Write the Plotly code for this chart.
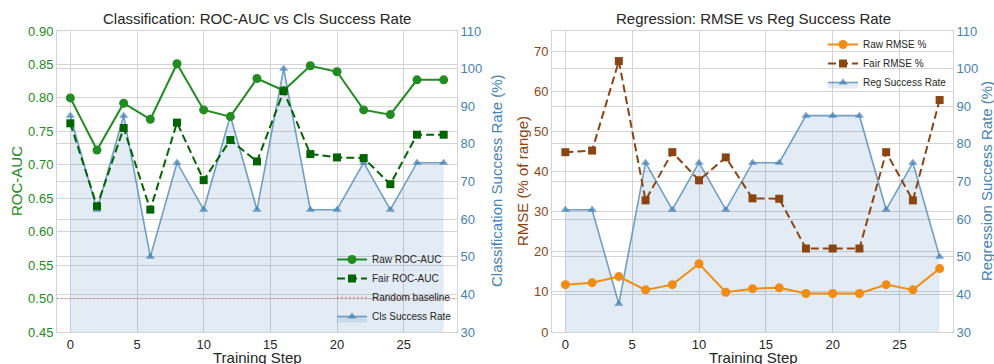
import plotly.graph_objects as go

steps = [0, 2, 4, 6, 8, 10, 12, 14, 16, 18, 20, 22, 24, 26, 28]

raw_auc = [0.800, 0.722, 0.792, 0.768, 0.851, 0.782, 0.772, 0.829, 0.811, 0.848, 0.839, 0.782, 0.775, 0.827, 0.827]
fair_auc = [0.762, 0.638, 0.755, 0.633, 0.763, 0.677, 0.737, 0.705, 0.810, 0.716, 0.711, 0.710, 0.671, 0.745, 0.745]
cls_success = [87.5, 62.5, 87.5, 50, 75, 62.5, 87.5, 62.5, 100, 62.5, 62.5, 75, 62.5, 75, 75]

raw_rmse = [11.8, 12.3, 13.8, 10.5, 11.8, 17.0, 9.9, 10.8, 11.0, 9.6, 9.6, 9.6, 11.8, 10.5, 15.8]
fair_rmse = [44.8, 45.2, 67.5, 32.8, 44.8, 37.8, 43.5, 33.3, 33.2, 20.8, 20.8, 20.8, 44.8, 32.8, 57.8]
reg_success = [62.5, 62.5, 37.5, 75, 62.5, 75, 62.5, 75, 75, 87.5, 87.5, 87.5, 62.5, 75, 50]

baseline = 0.5
x_ticks = [0, 5, 10, 15, 20, 25]

W, H = 994, 364
GREEN = "#228B22"
DGREEN = "#006400"
BLUE = "#4682B4"
BLUE_LINE = "rgba(70,130,180,0.75)"
BLUE_FILL = "rgba(70,130,180,0.15)"
ORANGE = "#F28C12"
BROWN = "#8B4513"
GRID = "#d4d4d4"
TXT = "#262626"
FONT = "Liberation Sans, Arial, sans-serif"


def px(x):
    return x / W


def py(y):
    return 1 - y / H


fig = go.Figure()

# ---- Left panel ----
fig.add_trace(go.Scatter(x=steps, y=raw_auc, name="Raw ROC-AUC", mode="lines+markers",
                         line=dict(color=GREEN, width=2), marker=dict(symbol="circle", size=9, color=GREEN),
                         xaxis="x", yaxis="y2", legend="legend"))
fig.add_trace(go.Scatter(x=steps, y=fair_auc, name="Fair ROC-AUC", mode="lines+markers",
                         line=dict(color=DGREEN, width=2, dash="8px,4px"),
                         marker=dict(symbol="square", size=8, color=DGREEN),
                         xaxis="x", yaxis="y2", legend="legend"))
fig.add_trace(go.Scatter(x=[-1, 29], y=[baseline, baseline], name="Random baseline", mode="lines",
                         line=dict(color="rgba(240,90,90,0.65)", width=1.3, dash="1.5px,2.5px"),
                         xaxis="x", yaxis="y2", legend="legend"))
fig.add_trace(go.Scatter(x=steps, y=cls_success, name="Cls Success Rate", mode="lines+markers",
                         line=dict(color=BLUE_LINE, width=1.6),
                         marker=dict(symbol="triangle-up", size=8, color=BLUE_LINE),
                         fill="tozeroy", fillcolor=BLUE_FILL,
                         xaxis="x", yaxis="y", legend="legend"))

# ---- Right panel ----
fig.add_trace(go.Scatter(x=steps, y=raw_rmse, name="Raw RMSE %", mode="lines+markers",
                         line=dict(color=ORANGE, width=2), marker=dict(symbol="circle", size=9, color=ORANGE),
                         xaxis="x2", yaxis="y4", legend="legend2"))
fig.add_trace(go.Scatter(x=steps, y=fair_rmse, name="Fair RMSE %", mode="lines+markers",
                         line=dict(color=BROWN, width=2, dash="8px,4px"),
                         marker=dict(symbol="square", size=8, color=BROWN),
                         xaxis="x2", yaxis="y4", legend="legend2"))
fig.add_trace(go.Scatter(x=steps, y=reg_success, name="Reg Success Rate", mode="lines+markers",
                         line=dict(color=BLUE_LINE, width=1.6),
                         marker=dict(symbol="triangle-up", size=8, color=BLUE_LINE),
                         fill="tozeroy", fillcolor=BLUE_FILL,
                         xaxis="x2", yaxis="y3", legend="legend2"))

ydom = [py(332), py(31)]
common_x = dict(range=[-1, 29], tickvals=x_ticks, showgrid=True, gridcolor=GRID, gridwidth=1,
                zeroline=False, showline=True, linecolor=GRID, mirror=True,
                tickfont=dict(size=13, color=TXT), ticks="", ticklen=0)
common_y = dict(showgrid=True, gridcolor=GRID, gridwidth=1, zeroline=False,
                showline=True, linecolor=GRID, ticks="", ticklen=0)

fig.update_layout(
    width=W, height=H,
    margin=dict(l=0, r=0, t=0, b=0, autoexpand=False),
    paper_bgcolor="white", plot_bgcolor="white",
    font=dict(family=FONT, color=TXT),
    xaxis=dict(domain=[px(57), px(457)], anchor="y", **common_x),
    yaxis=dict(domain=ydom, anchor="x", side="right", range=[30, 110], dtick=10,
               tickfont=dict(size=13, color=BLUE), **common_y),
    yaxis2=dict(anchor="x", overlaying="y", side="left", range=[0.45, 0.90], dtick=0.05,
                tickformat=".2f", tickfont=dict(size=13, color=GREEN), **common_y),
    xaxis2=dict(domain=[px(552), px(953)], anchor="y3", **common_x),
    yaxis3=dict(domain=ydom, anchor="x2", side="right", range=[30, 110], dtick=10,
                tickfont=dict(size=13, color=BLUE), **common_y),
    yaxis4=dict(anchor="x2", overlaying="y3", side="left", range=[0, 75], dtick=10,
                tickfont=dict(size=13, color=BROWN), **common_y),
    legend=dict(x=px(457), y=py(331), xanchor="right", yanchor="bottom",
                bgcolor="rgba(0,0,0,0)", font=dict(size=10, color=TXT), itemwidth=30,
                tracegroupgap=0),
    legend2=dict(x=px(952), y=py(30), xanchor="right", yanchor="top",
                 bgcolor="rgba(0,0,0,0)", font=dict(size=10, color=TXT), itemwidth=30,
                 tracegroupgap=0),
)

annotations = [
    dict(text="Classification: ROC-AUC vs Cls Success Rate", x=px(257), y=py(18), font=dict(size=15, color=TXT)),
    dict(text="Regression: RMSE vs Reg Success Rate", x=px(753), y=py(18), font=dict(size=15, color=TXT)),
    dict(text="Training Step", x=px(257), y=py(357), font=dict(size=15, color=TXT)),
    dict(text="Training Step", x=px(753), y=py(357), font=dict(size=15, color=TXT)),
    dict(text="ROC-AUC", x=px(16), y=py(181), textangle=-90, font=dict(size=15, color=GREEN)),
    dict(text="Classification Success Rate (%)", x=px(496), y=py(181), textangle=-90, font=dict(size=15, color=BLUE)),
    dict(text="RMSE (% of range)", x=px(522), y=py(181), textangle=-90, font=dict(size=15, color=BROWN)),
    dict(text="Regression Success Rate (%)", x=px(986), y=py(181), textangle=-90, font=dict(size=15, color=BLUE)),
]
for a in annotations:
    a.update(xref="paper", yref="paper", showarrow=False, xanchor="center", yanchor="middle")
fig.update_layout(annotations=annotations)

post = (
    "document.documentElement.style.margin='0';"
    "document.documentElement.style.overflow='hidden';"
    "document.body.style.margin='0';"
    "document.body.style.overflow='hidden';"
    "var d=document.querySelector('.plotly-graph-div');"
    "d.style.position='fixed';d.style.left='0px';d.style.top='0px';"
)

fig.write_html("out.html", config={"displayModeBar": False}, post_script=post)
